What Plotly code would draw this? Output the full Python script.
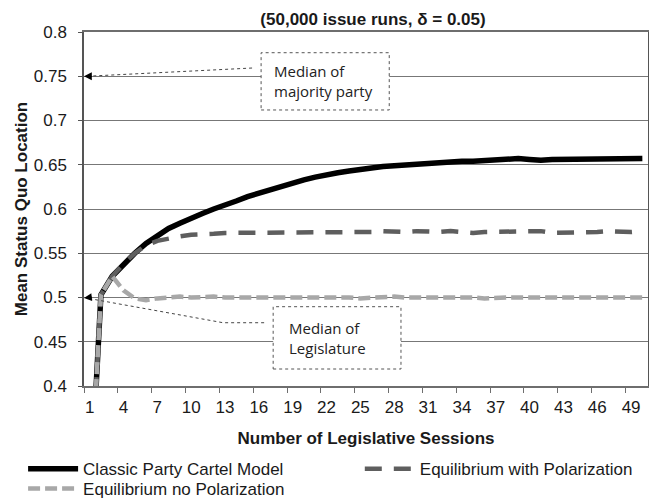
import plotly.graph_objects as go

sessions = list(range(1, 51))
classic = [0.26, 0.503, 0.524, 0.538, 0.550, 0.561, 0.570, 0.578, 0.584, 0.590,
           0.595, 0.600, 0.604, 0.609, 0.614, 0.618, 0.622, 0.626, 0.630, 0.633,
           0.636, 0.639, 0.641, 0.643, 0.645, 0.647, 0.648, 0.649, 0.650, 0.651,
           0.652, 0.653, 0.653, 0.654, 0.654, 0.655, 0.655, 0.656, 0.657, 0.656,
           0.655, 0.656, 0.656, 0.656, 0.656, 0.656, 0.657, 0.657, 0.657, 0.657]
polarization = [0.26, 0.503, 0.524, 0.538, 0.550, 0.559, 0.564, 0.567, 0.569, 0.571,
                0.571, 0.572, 0.573, 0.573, 0.574, 0.573, 0.574, 0.574, 0.573, 0.574,
                0.574, 0.574, 0.574, 0.573, 0.574, 0.574, 0.575, 0.574, 0.574, 0.575,
                0.574, 0.574, 0.575, 0.574, 0.573, 0.574, 0.574, 0.574, 0.574, 0.574,
                0.575, 0.573, 0.573, 0.573, 0.574, 0.574, 0.575, 0.574, 0.574, 0.575]
no_polarization = [0.26, 0.503, 0.524, 0.508, 0.499, 0.497, 0.499, 0.500, 0.501, 0.500,
                   0.501, 0.501, 0.500, 0.500, 0.500, 0.501, 0.500, 0.500, 0.501, 0.500,
                   0.500, 0.501, 0.500, 0.500, 0.499, 0.500, 0.500, 0.501, 0.500, 0.500,
                   0.500, 0.501, 0.500, 0.500, 0.500, 0.499, 0.500, 0.500, 0.500, 0.500,
                   0.500, 0.501, 0.501, 0.500, 0.500, 0.500, 0.500, 0.500, 0.500, 0.500]
series_names = ["Classic Party Cartel Model", "Equilibrium with Polarization",
                "Equilibrium no Polarization"]
x_tick_labels = [str(v) for v in range(1, 51, 3)]

FONT = "Liberation Sans, Arial, sans-serif"

fig = go.Figure()
fig.add_trace(go.Scatter(x=sessions, y=classic, mode="lines", name=series_names[0],
                         legend="legend",
                         line=dict(color="#000000", width=5.5)))
fig.add_trace(go.Scatter(x=sessions, y=polarization, mode="lines", name=series_names[1],
                         legend="legend2",
                         line=dict(color="#5e5e5e", width=4.5, dash="17px,12px")))
fig.add_trace(go.Scatter(x=sessions, y=no_polarization, mode="lines", name=series_names[2],
                         legend="legend3",
                         line=dict(color="#a8a8a8", width=4.5, dash="12px,5px")))

# annotation boxes (dotted borders)
fig.add_shape(type="rect", xref="x", yref="y", x0=16.2, x1=27.56, y0=0.7119, y1=0.7766,
              line=dict(color="#555555", width=1, dash="dot"), fillcolor="white", layer="above")
fig.add_shape(type="rect", xref="x", yref="y", x0=17.27, x1=28.6, y0=0.4192, y1=0.4896,
              line=dict(color="#555555", width=1, dash="dot"), fillcolor="white", layer="above")
# dotted leader lines
fig.add_shape(type="line", xref="x", yref="y", x0=15.4, y0=0.7593, x1=1.1, y1=0.7502,
              line=dict(color="#444444", width=1, dash="dot"), layer="above")
fig.add_shape(type="path", xref="x", yref="y",
              path="M 16.47,0.4715 L 12.83,0.4715 L 1.1,0.4985",
              line=dict(color="#444444", width=1, dash="dot"), layer="above")

ann_font = dict(family="Open Sans, sans-serif", size=15, color="#222222")
fig.add_annotation(x=17.2, y=0.7443, xref="x", yref="y", xanchor="left", yanchor="middle",
                   text="Median of<br>majority party", align="left", showarrow=False,
                   font=ann_font)
fig.add_annotation(x=18.5, y=0.4544, xref="x", yref="y", xanchor="left", yanchor="middle",
                   text="Median of<br>Legislature", align="left", showarrow=False,
                   font=ann_font)
# arrowheads
fig.add_annotation(x=0.5, y=0.75, xref="x", yref="y", text="", showarrow=True,
                   arrowhead=2, arrowsize=1.3, arrowwidth=1.2, arrowcolor="#000000",
                   ax=9, ay=0)
fig.add_annotation(x=0.5, y=0.4995, xref="x", yref="y", text="", showarrow=True,
                   arrowhead=2, arrowsize=1.3, arrowwidth=1.2, arrowcolor="#000000",
                   ax=9, ay=-1)

leg_font = dict(family=FONT, size=17, color="#1a1a1a")
leg_common = dict(orientation="v", xanchor="left", yanchor="top", font=leg_font,
                  bgcolor="rgba(0,0,0,0)", itemwidth=50)
fig.update_layout(
    width=649, height=493,
    margin=dict(l=76, r=9, t=24, b=115, autoexpand=False),
    paper_bgcolor="white", plot_bgcolor="white",
    font=dict(family=FONT, size=17, color="#1a1a1a"),
    title=dict(text="<b>(50,000 issue runs, δ = 0.05)</b>", x=365/649, xanchor="center",
               xref="container", y=1 - 11/493, yanchor="middle", yref="container",
               font=dict(family=FONT, size=17, color="#1a1a1a")),
    showlegend=True,
    legend=dict(x=-0.108, y=-0.184, **leg_common),
    legend2=dict(x=0.489, y=-0.184, **leg_common),
    legend3=dict(x=-0.108, y=-0.240, **leg_common),
)

fig.update_xaxes(
    range=[0.5, 50.5], tickmode="array", tickvals=list(range(1, 51, 3)),
    ticktext=x_tick_labels, ticks="", showgrid=False, zeroline=False,
    showline=True, linecolor="#6e6e6e", linewidth=1.5, mirror=True,
    minor=dict(ticks="outside", tick0=0.5, dtick=3, ticklen=5, tickcolor="#6e6e6e",
               showgrid=False),
    ticklabelstandoff=5,
    title=dict(text="<b>Number of Legislative Sessions</b>", standoff=16,
               font=dict(family=FONT, size=17, color="#1a1a1a")),
    automargin=False,
)
fig.update_yaxes(
    range=[0.4, 0.8], dtick=0.05, tick0=0.4, showgrid=True, gridcolor="#777777",
    gridwidth=1, zeroline=False, ticks="outside", ticklen=4, tickcolor="#555555",
    showline=True, linecolor="#555555", linewidth=1.5, mirror=True,
    ticklabelstandoff=8,
    title=dict(text="<b>Mean Status Quo Location</b>", standoff=2,
               font=dict(family=FONT, size=17, color="#1a1a1a")),
    automargin=False,
)

fig.write_html("out.html")
